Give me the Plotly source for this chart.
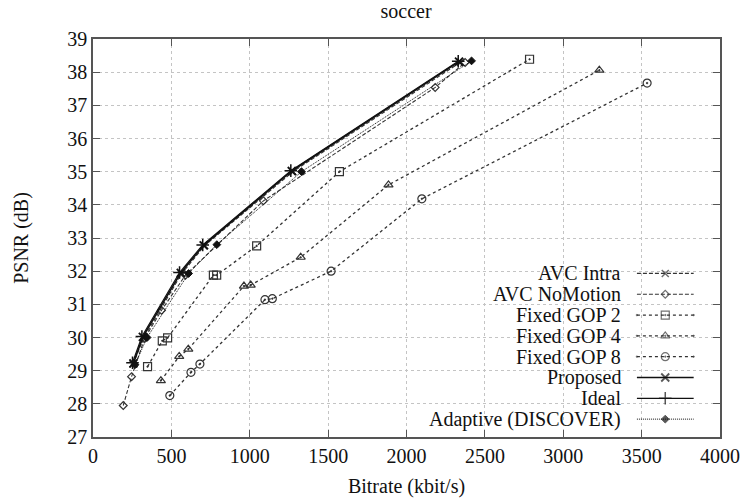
import plotly.graph_objects as go

title = "soccer"
x_title = "Bitrate (kbit/s)"
y_title = "PSNR (dB)"

series_names = ["AVC Intra", "AVC NoMotion", "Fixed GOP 2", "Fixed GOP 4",
                "Fixed GOP 8", "Proposed", "Ideal", "Adaptive (DISCOVER)"]

avc_intra_rate = [255, 325, 565, 712, 1275, 2345]
avc_intra_psnr = [29.2, 30.0, 31.92, 32.77, 35.0, 38.3]

avc_nomotion_rate = [193, 246, 330, 437, 590, 1087, 2183, 2374]
avc_nomotion_psnr = [27.95, 28.82, 29.98, 30.82, 31.88, 34.12, 37.54, 38.29]

gop2_rate = [348, 442, 476, 768, 789, 1044, 1572, 2785]
gop2_psnr = [29.12, 29.9, 29.99, 31.88, 31.88, 32.76, 35.0, 38.39]

gop4_rate = [433, 550, 608, 963, 1006, 1325, 1885, 3230]
gop4_psnr = [28.7, 29.43, 29.65, 31.55, 31.58, 32.42, 34.6, 38.06]

gop8_rate = [490, 625, 682, 1097, 1144, 1519, 2098, 3535]
gop8_psnr = [28.25, 28.95, 29.2, 31.14, 31.17, 32.0, 34.18, 37.67]

proposed_rate = [258, 318, 560, 706, 1268, 2335]
proposed_psnr = [29.22, 30.02, 31.95, 32.78, 35.02, 38.32]

ideal_rate = [252, 312, 552, 700, 1262, 2330]
ideal_psnr = [29.24, 30.03, 31.96, 32.79, 35.03, 38.33]

adaptive_rate = [268, 345, 610, 790, 1330, 2415]
adaptive_psnr = [29.18, 30.0, 31.93, 32.8, 35.0, 38.34]

x_ticks = [0, 500, 1000, 1500, 2000, 2500, 3000, 3500, 4000]
y_ticks = list(range(27, 40))

FONT = "Liberation Serif"

styles = [
    dict(sym="x-thin-open", dash="4px,2px", color="#333", width=1.1, size=7, lw=1.5),
    dict(sym="diamond-open", dash="4px,2px", color="#333", width=1.1, size=6, lw=1.2),
    dict(sym="square-open-dot", dash="dot", color="#333", width=1.3, size=8, lw=1.2),
    dict(sym="triangle-up-open-dot", dash="dot", color="#333", width=1.3, size=8, lw=1.2),
    dict(sym="circle-open-dot", dash="dot", color="#333", width=1.3, size=8, lw=1.2),
    dict(sym="x-thin-open", dash="solid", color="#111", width=1.6, size=8, lw=1.8),
    dict(sym="cross-thin-open", dash="solid", color="#111", width=1.2, size=9, lw=1.5),
    dict(sym="diamond", dash="1px,1px", color="#111", width=1.0, size=6, lw=1.0),
]

data = [
    (avc_intra_rate, avc_intra_psnr),
    (avc_nomotion_rate, avc_nomotion_psnr),
    (gop2_rate, gop2_psnr),
    (gop4_rate, gop4_psnr),
    (gop8_rate, gop8_psnr),
    (proposed_rate, proposed_psnr),
    (ideal_rate, ideal_psnr),
    (adaptive_rate, adaptive_psnr),
]

fig = go.Figure()
for name, (xs, ys), st in zip(series_names, data, styles):
    fig.add_trace(go.Scatter(
        x=xs, y=ys, name=name, mode="lines+markers",
        line=dict(color=st["color"], width=st["width"], dash=st["dash"]),
        marker=dict(symbol=st["sym"], size=st["size"], color=st["color"],
                    line=dict(color=st["color"], width=st["lw"])),
        showlegend=False,
    ))

# Manual gnuplot-style legend (text right-aligned, sample on the right)
row_top = 0.411
row_step = 0.0523
x_text = 0.845
x_l0, x_l1, x_mid = 0.8675, 0.958, 0.9127
annotations = []
for i, (name, st) in enumerate(zip(series_names, styles)):
    yy = row_top - i * row_step
    fig.add_trace(go.Scatter(
        x=[x_l0, x_mid, x_l1], y=[yy, yy, yy], xaxis="x2", yaxis="y2",
        mode="lines+markers",
        line=dict(color=st["color"], width=st["width"], dash=st["dash"]),
        marker=dict(symbol=st["sym"], size=[0, st["size"], 0], color=st["color"],
                    line=dict(color=st["color"], width=st["lw"])),
        showlegend=False, hoverinfo="skip",
    ))
    annotations.append(dict(
        x=x_text, y=yy, xref="paper", yref="paper", text=name,
        showarrow=False, xanchor="right", yanchor="middle",
        font=dict(family=FONT, size=20, color="#111"),
    ))

axis_common = dict(
    showline=True, linecolor="#555", linewidth=1.5, mirror="ticks",
    ticks="inside", ticklen=7, tickwidth=1.3, tickcolor="#555",
    showgrid=True, gridcolor="#c4c4c4", griddash="dot", gridwidth=1,
    zeroline=False, automargin=False,
    tickfont=dict(family=FONT, size=20, color="#111"),
)

fig.update_layout(
    width=743, height=500,
    margin=dict(l=93, r=23, t=39, b=63, autoexpand=False),
    paper_bgcolor="white", plot_bgcolor="white",
    title=dict(text=title, x=0.5465, xanchor="center", xref="container",
               y=0.978, yanchor="middle", yref="container", pad=dict(t=0, b=0),
               font=dict(family=FONT, size=20, color="#111")),
    xaxis=dict(range=[0, 4000], tickvals=x_ticks,
               title=dict(text=x_title, font=dict(family=FONT, size=20, color="#111"), standoff=13),
               **axis_common),
    yaxis=dict(range=[27, 39], tickvals=y_ticks,
               title=dict(text=y_title, font=dict(family=FONT, size=20, color="#111"), standoff=33),
               **axis_common),
    xaxis2=dict(range=[0, 1], overlaying="x", visible=False, fixedrange=True),
    yaxis2=dict(range=[0, 1], overlaying="y", visible=False, fixedrange=True),
    annotations=annotations,
    showlegend=False,
)

fig.write_html("out.html",
               config={"displayModeBar": False},
               post_script="document.body.style.margin='0';document.body.style.overflow='hidden';")
